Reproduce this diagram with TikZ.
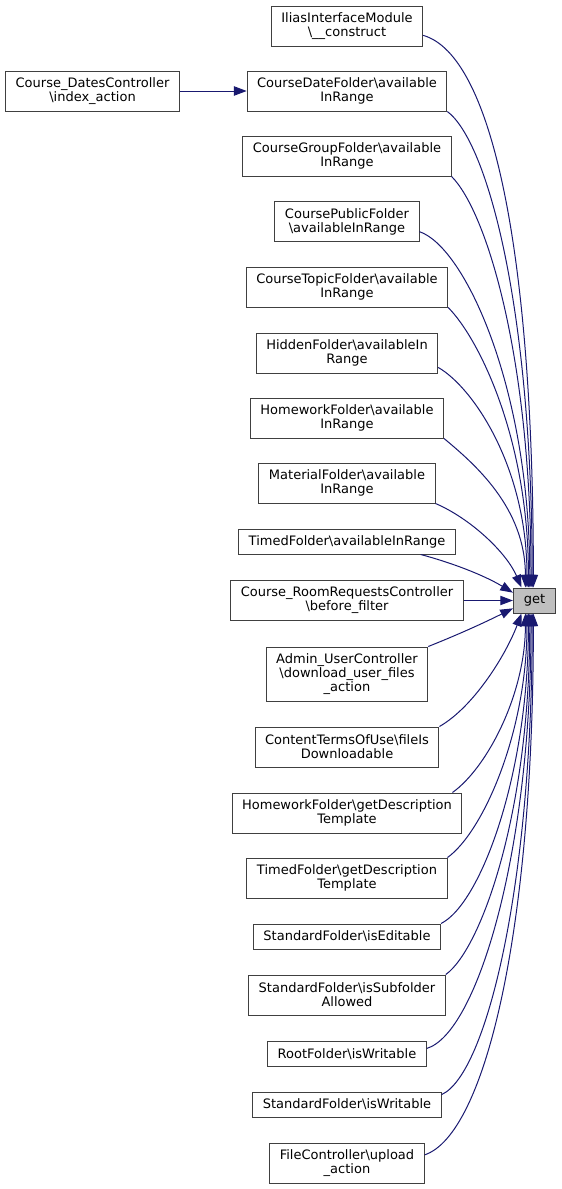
\documentclass[tikz,border=0pt]{standalone}
\usepackage{fontspec}
\setmainfont{DejaVu Sans}
\usepackage{xcolor}
\usepackage{tikz}
\usetikzlibrary{arrows.meta,positioning,calc}
\definecolor{edgeblue}{HTML}{191970}
\definecolor{getgray}{HTML}{BFBFBF}

\begin{document}
\begin{tikzpicture}[
  x=0.75pt, y=0.75pt,
  font=\fontsize{9.75pt}{10.5pt}\selectfont,
  fn/.style={rectangle, draw=black!75, line width=0.75pt, fill=white, align=center, inner xsep=7.5pt, inner ysep=0pt, minimum height=18.75pt},
  fntwo/.style={fn, minimum height=30pt},
  fnthree/.style={fn, minimum height=40.5pt},
  target/.style={fn, fill=getgray, inner xsep=7.8pt},
  call/.style={-{Triangle[length=9.5pt,width=7pt]}, draw=edgeblue, line width=0.75pt}
]

\useasboundingbox (0,0) rectangle (561,-1189);

\def\cx{347}

\node[target] (get) at (534.5,-600.5) {get};

\node[fntwo] (ilias) at (\cx,-26) {IliasInterfaceModule\\\textbackslash\_\_construct};
\node[fntwo] (dates) at (92.5,-91) {Course\_DatesController\\\textbackslash index\_action};
\node[fntwo] (datef) at (\cx,-91) {CourseDateFolder\textbackslash available\\InRange};
\node[fntwo] (group) at (\cx,-156) {CourseGroupFolder\textbackslash available\\InRange};
\node[fntwo] (public) at (\cx,-221.5) {CoursePublicFolder\\\textbackslash availableInRange};
\node[fntwo] (topic) at (\cx,-287) {CourseTopicFolder\textbackslash available\\InRange};
\node[fntwo] (hidden) at (\cx,-353) {HiddenFolder\textbackslash availableIn\\Range};
\node[fntwo] (hwavail) at (\cx,-418) {HomeworkFolder\textbackslash available\\InRange};
\node[fntwo] (material) at (\cx,-483) {MaterialFolder\textbackslash available\\InRange};
\node[fn] (timedavail) at (\cx,-541.5) {TimedFolder\textbackslash availableInRange};
\node[fntwo] (room) at (\cx,-600.5) {Course\_RoomRequestsController\\\textbackslash before\_filter};
\node[fnthree] (admin) at (\cx,-674) {Admin\_UserController\\\textbackslash download\_user\_files\\\_action};
\node[fntwo] (terms) at (\cx,-747) {ContentTermsOfUse\textbackslash fileIs\\Downloadable};
\node[fntwo] (hwdesc) at (\cx,-813) {HomeworkFolder\textbackslash getDescription\\Template};
\node[fntwo] (timeddesc) at (\cx,-878) {TimedFolder\textbackslash getDescription\\Template};
\node[fn] (editable) at (\cx,-936.5) {StandardFolder\textbackslash isEditable};
\node[fntwo] (subfolder) at (\cx,-995) {StandardFolder\textbackslash isSubfolder\\Allowed};
\node[fn] (rootw) at (\cx,-1054) {RootFolder\textbackslash isWritable};
\node[fn] (stdw) at (\cx,-1104.5) {StandardFolder\textbackslash isWritable};
\node[fntwo] (upload) at (\cx,-1163) {FileController\textbackslash upload\\\_action};

\draw[call] (dates.east) -- (datef.west);

\draw[call] (ilias.-7) .. controls +(70,-20) and +(0,330) .. (get.95);
\draw[call] (datef.south east) .. controls +(40,-30) and +(0,280) .. (get.100);
\draw[call] (group.south east) .. controls +(35,-35) and +(0,230) .. (get.105);
\draw[call] (public.-8) .. controls +(45,-15) and +(0,200) .. (get.110);
\draw[call] (topic.south east) .. controls +(30,-30) and +(0,150) .. (get.115);
\draw[call] (hidden.-9) .. controls +(35,-20) and +(0,120) .. (get.120);
\draw[call] (hwavail.south east) .. controls +(30,-25) and +(0,80) .. (get.125);
\draw[call] (material.south east) .. controls +(35,-15) and +(-15,35) .. (get.135);
\draw[call] (timedavail.-10) .. controls +(30,-8) and +(-30,18) .. (get.160);
\draw[call] (room.east) -- (get.west);
\draw[call] (admin.north east) .. controls +(30,12) and +(-30,-15) .. (get.-160);
\draw[call] (terms.north east) .. controls +(35,20) and +(-15,-40) .. (get.-135);
\draw[call] (hwdesc.11) .. controls +(35,25) and +(0,-80) .. (get.-125);
\draw[call] (timeddesc.north east) .. controls +(35,25) and +(0,-120) .. (get.-120);
\draw[call] (editable.north east) .. controls +(40,20) and +(0,-160) .. (get.-115);
\draw[call] (subfolder.north east) .. controls +(35,25) and +(0,-200) .. (get.-110);
\draw[call] (rootw.4) .. controls +(50,15) and +(0,-240) .. (get.-105);
\draw[call] (stdw.6) .. controls +(45,20) and +(0,-270) .. (get.-100);
\draw[call] (upload.6) .. controls +(60,20) and +(0,-320) .. (get.-95);

\end{tikzpicture}
\end{document}
